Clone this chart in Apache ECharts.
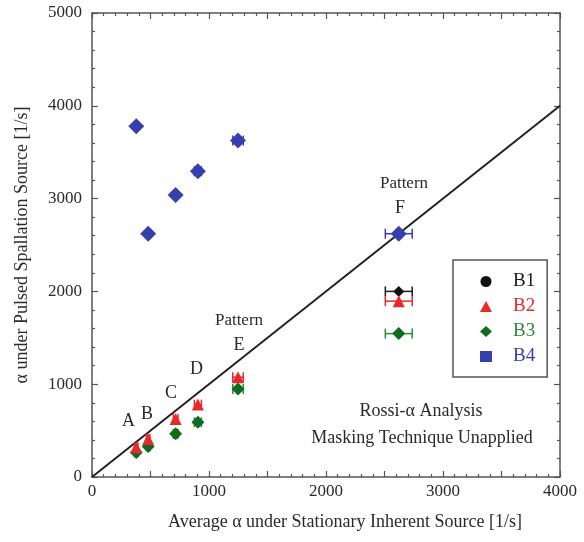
<!DOCTYPE html>
<html>
<head>
<meta charset="utf-8">
<script src="https://cdn.jsdelivr.net/npm/echarts@6/dist/echarts.min.js"></script>
<style>
  html, body { margin: 0; padding: 0; background: #fff; }
  #main { width: 584px; height: 542px; }
</style>
</head>
<body>
<div id="main"></div>
<script>
// patterns A..F, alpha under stationary inherent source (x) and its error
const patterns = ['A', 'B', 'C', 'D', 'E', 'F']
const stationaryAlpha = [378, 480, 715, 905, 1248, 2622]
const stationaryErr = [15, 15, 20, 30, 45, 115]

// alpha under pulsed spallation source (y) per bundle, null = not shown
const alphaB1 = [null, null, null, null, null, 2000]
const alphaB2 = [320, 410, 625, 780, 1075, 1895]
const alphaB3 = [265, 330, 465, 590, 948, 1545]
const alphaB4 = [3780, 2620, 3040, 3295, 3625, 2622]

const xTicks = [0, 1000, 2000, 3000, 4000]
const yTicks = [0, 1000, 2000, 3000, 4000, 5000]

const serif = '"Liberation Serif", "DejaVu Serif", serif'
const axisColor = '#555'
const textColor = '#2a2a2a'

function pts (ys) {
  let out = []
  ys.forEach(function (y, i) {
    if (y !== null) out.push([stationaryAlpha[i], y, stationaryErr[i]])
  })
  return out
}

function errBars (name, ys, color) {
  return {
    name: name,
    type: 'custom',
    encode: { x: 0, y: 1 },
    z: 3,
    silent: true,
    itemStyle: { color: color },
    data: pts(ys),
    renderItem: function (params, api) {
      const x = api.value(0), y = api.value(1), e = api.value(2)
      const l = api.coord([x - e, y])
      const r = api.coord([x + e, y])
      const h = 5
      const st = { stroke: color, lineWidth: 1.5 }
      return {
        type: 'group',
        children: [
          { type: 'line', shape: { x1: l[0], y1: l[1], x2: r[0], y2: r[1] }, style: st },
          { type: 'line', shape: { x1: l[0], y1: l[1] - h, x2: l[0], y2: l[1] + h }, style: st },
          { type: 'line', shape: { x1: r[0], y1: r[1] - h, x2: r[0], y2: r[1] + h }, style: st }
        ]
      }
    }
  }
}

function dots (name, ys, color, symbol, size) {
  return {
    name: name,
    type: 'scatter',
    symbol: symbol,
    symbolSize: size,
    z: 4,
    itemStyle: { color: color, opacity: 1 },
    data: pts(ys)
  }
}

let myChart = echarts.init(document.getElementById('main'))

let xAxisBase = {
  type: 'value',
  min: 0,
  max: 4000,
  interval: 500,
  axisLine: { show: true, onZero: false, lineStyle: { color: axisColor, width: 1.5 } },
  axisTick: { show: true, inside: true, length: 6, lineStyle: { color: axisColor, width: 1.2 } },
  minorTick: { show: true, splitNumber: 5, length: 3, lineStyle: { color: axisColor, width: 1.2 } },
  splitLine: { show: false }
}
let yAxisBase = {
  type: 'value',
  min: 0,
  max: 5000,
  interval: 1000,
  axisLine: { show: true, onZero: false, lineStyle: { color: axisColor, width: 1.5 } },
  axisTick: { show: true, inside: true, length: 6, lineStyle: { color: axisColor, width: 1.2 } },
  minorTick: { show: true, splitNumber: 5, length: 3, lineStyle: { color: axisColor, width: 1.2 } },
  splitLine: { show: false }
}

let option = {
  animation: false,
  backgroundColor: '#fff',
  grid: { left: 92, right: 24, top: 13, bottom: 65 },
  xAxis: [
    Object.assign({}, xAxisBase, {
      position: 'bottom',
      name: 'Average α under Stationary Inherent Source [1/s]',
      nameLocation: 'middle',
      nameGap: 36,
      nameTextStyle: { fontFamily: serif, fontSize: 18, color: textColor, padding: [0, 0, 0, 38] },
      axisLabel: {
        fontFamily: serif, fontSize: 17, color: textColor, margin: 6,
        formatter: function (v) { return xTicks.indexOf(v) >= 0 ? String(v) : '' }
      }
    }),
    Object.assign({}, xAxisBase, { position: 'top', axisLabel: { show: false } })
  ],
  yAxis: [
    Object.assign({}, yAxisBase, {
      position: 'left',
      name: 'α under Pulsed Spallation Source [1/s]',
      nameLocation: 'middle',
      nameGap: 61,
      nameTextStyle: { fontFamily: serif, fontSize: 18, color: textColor },
      axisLabel: {
        fontFamily: serif, fontSize: 17, color: textColor, margin: 10,
        formatter: function (v) { return yTicks.indexOf(v) >= 0 ? String(v) : '' }
      }
    }),
    Object.assign({}, yAxisBase, { position: 'right', axisLabel: { show: false } })
  ],
  legend: {
    orient: 'vertical',
    left: 453,
    top: 260,
    width: 95,
    padding: [12, 12, 11, 27],
    itemGap: 6,
    itemWidth: 12,
    itemHeight: 11,
    borderColor: '#555',
    borderWidth: 1.5,
    backgroundColor: '#fff',
    selectedMode: false,
    textStyle: { fontFamily: serif, fontSize: 19, lineHeight: 18, padding: [0, 0, 0, 16] },
    data: [
      { name: 'B1', icon: 'circle', itemStyle: { color: '#111' }, textStyle: { color: '#1a1a1a' } },
      { name: 'B2', icon: 'triangle', itemStyle: { color: '#e8282a' }, textStyle: { color: '#e8282a' } },
      { name: 'B3', icon: 'diamond', itemStyle: { color: '#0f6b1f' }, textStyle: { color: '#2c8a3c' } },
      { name: 'B4', icon: 'rect', itemStyle: { color: '#3540ac' }, textStyle: { color: '#3a3cb4' } }
    ]
  },
  graphic: [
    { type: 'text', left: 122, top: 412, style: { text: patterns[0], font: '18px ' + serif, fill: textColor } },
    { type: 'text', left: 141, top: 405, style: { text: patterns[1], font: '18px ' + serif, fill: textColor } },
    { type: 'text', left: 165, top: 384, style: { text: patterns[2], font: '18px ' + serif, fill: textColor } },
    { type: 'text', left: 190, top: 360, style: { text: patterns[3], font: '18px ' + serif, fill: textColor } },
    { type: 'text', x: 239, y: 321, style: { text: 'Pattern', font: '17px ' + serif, fill: textColor, align: 'center', verticalAlign: 'middle' } },
    { type: 'text', x: 239, y: 345, style: { text: patterns[4], font: '18px ' + serif, fill: textColor, align: 'center', verticalAlign: 'middle' } },
    { type: 'text', x: 404, y: 184, style: { text: 'Pattern', font: '17px ' + serif, fill: textColor, align: 'center', verticalAlign: 'middle' } },
    { type: 'text', x: 400, y: 208, style: { text: patterns[5], font: '18px ' + serif, fill: textColor, align: 'center', verticalAlign: 'middle' } },
    { type: 'text', x: 421, y: 411, style: { text: 'Rossi-α Analysis', font: '18px ' + serif, fill: textColor, align: 'center', verticalAlign: 'middle' } },
    { type: 'text', x: 422, y: 438, style: { text: 'Masking Technique Unapplied', font: '18px ' + serif, fill: textColor, align: 'center', verticalAlign: 'middle' } }
  ],
  series: [
    {
      name: 'ref',
      type: 'line',
      symbol: 'none',
      silent: true,
      z: 2,
      lineStyle: { color: '#222', width: 2 },
      data: [[0, 0], [4000, 4000]]
    },
    errBars('B1', alphaB1, '#1a1a1a'),
    errBars('B2', alphaB2, '#e8282a'),
    errBars('B3', alphaB3, '#2c8a3c'),
    errBars('B4', alphaB4, '#3a3cb4'),
    dots('B1', alphaB1, '#111', 'diamond', 11),
    dots('B3', alphaB3, '#0f6b1f', 'diamond', 13),
    dots('B2', alphaB2, '#e8282a', 'triangle', 12),
    dots('B4', alphaB4, '#3540ac', 'diamond', 16)
  ]
}

myChart.setOption(option, true)
</script>
</body>
</html>
